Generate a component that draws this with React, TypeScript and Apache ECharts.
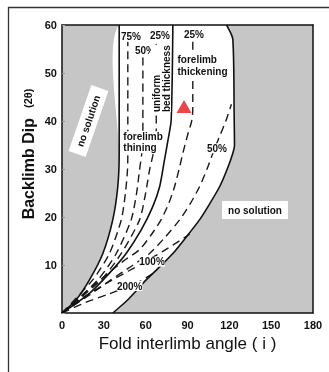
import React, { useEffect, useRef } from "react";
import * as echarts from "echarts";

// ---- data (degrees: [interlimb angle, backlimb dip]) ----
const leftBoundary = [[0, 0], [10, 2.7], [19.7, 6.9], [29.3, 12.4], [36.4, 19.4], [40, 26.3], [41, 33], [41, 60]];
const rightBoundary = [[36.5, 0], [47, 2.7], [60.4, 6.9], [70, 9.6], [79.5, 12.4], [89, 15.8], [98.6, 19.4], [106, 22.8], [113, 26.3], [118.5, 30], [122.5, 33.3], [123.7, 35], [123.5, 40], [122.5, 57], [118, 60]];
const uniformLine = [[0, 0], [19.7, 4.1], [34, 8.3], [46, 12.4], [56.8, 17.3], [65, 22.1], [70, 26.3], [73.5, 31.9], [76, 36], [78.3, 40.2], [79.5, 60]];
const thin75 = [[0, 0], [22, 6.9], [34, 12.4], [42.5, 19.4], [45.5, 25], [47, 30], [47.2, 34], [47.2, 56.5]];
const thin50 = [[0, 0], [25.7, 6.9], [38.9, 12.4], [49.6, 19.4], [53.5, 25], [55.6, 29.8], [57.5, 34], [58, 38], [58, 54]];
const thin25 = [[0, 0], [28, 6.9], [42.5, 12.4], [55.6, 19.4], [60, 25], [62.8, 29.8], [66, 34], [67.6, 38], [67.6, 56]];
const thick25 = [[0, 0], [18, 4.6], [32, 8], [44, 10.8], [55.6, 13.2], [64, 16.3], [71, 19.4], [76.5, 22.8], [80.7, 26.3], [84, 30], [86.7, 33.3], [90, 37], [93, 40], [93.8, 42.5], [93.8, 56.5]];
const thick50 = [[0, 0], [20, 3.8], [35, 6.9], [50, 9.8], [62.8, 12.4], [74, 15.8], [84.3, 19.4], [92, 22.8], [98.6, 26.3], [104, 30], [108.2, 33.3], [113, 36.8], [117.5, 40], [121.5, 43.5]];
const thick100 = [[0, 0], [16, 3.4], [32, 6.2], [48, 8.8], [61, 10.9], [72, 12.8], [82, 14.6], [91.5, 16.4]];
const thick200 = [[0, 0], [17, 2.2], [33, 3.9], [48, 5.6], [56, 6.6], [66, 8.4]];
const observedFold = [[87.5, 43]];

const xTickValues = [0, 30, 60, 90, 120, 150, 180];
const yTickValues = [10, 20, 30, 40, 50, 60];

const FONT = "'Liberation Sans', Arial, sans-serif";

export default function App() {
  const ref = useRef<HTMLDivElement>(null);

  useEffect(() => {
    if (!ref.current) return;
    const chart = echarts.init(ref.current, null, { renderer: "svg" });

    const whiteRegion = [...leftBoundary, ...rightBoundary.slice().reverse()];

    const dashed = (data: number[][]) => ({
      type: "line",
      data,
      showSymbol: false,
      smooth: 0.25,
      silent: true,
      z: 3,
      lineStyle: { color: "#1a1a1a", width: 1.4, type: [8, 5] },
    });
    const solid = (data: number[][]) => ({
      type: "line",
      data,
      showSymbol: false,
      smooth: 0.25,
      silent: true,
      z: 4,
      lineStyle: { color: "#111", width: 1.6, type: "solid" },
    });

    const lab = (text: string, x: number, y: number, extra: any = {}, rotation = 0) => ({
      type: "text",
      x,
      y,
      rotation,
      z: 100,
      style: {
        text,
        fontSize: 10,
        fontWeight: "bold",
        fontFamily: FONT,
        fill: "#111",
        align: "center",
        verticalAlign: "middle",
        backgroundColor: "#fff",
        ...extra,
      },
    });

    const axisLineStyle = { color: "#111", width: 1.5 };

    chart.setOption({
      animation: false,
      grid: { left: 62, right: 16, top: 25, bottom: 59, show: true, backgroundColor: "#c6c6c6", borderWidth: 0 },
      xAxis: [
        {
          type: "value",
          min: 0,
          max: 180,
          interval: 30,
          z: 10,
          axisLine: { show: true, onZero: false, lineStyle: axisLineStyle },
          axisTick: { show: false },
          splitLine: { show: false },
          axisLabel: {
            margin: 6,
            fontSize: 11,
            fontWeight: "bold",
            fontFamily: FONT,
            color: "#111",
            formatter: (v: number) => (xTickValues.includes(v) ? String(v) : ""),
          },
          name: "Fold interlimb angle ( i )",
          nameLocation: "middle",
          nameGap: 10,
          nameTextStyle: { fontSize: 17, fontFamily: FONT, color: "#111" },
        },
        {
          type: "value",
          position: "top",
          min: 0,
          max: 180,
          z: 10,
          axisLine: { show: true, onZero: false, lineStyle: axisLineStyle },
          axisTick: { show: false },
          axisLabel: { show: false },
          splitLine: { show: false },
        },
      ],
      yAxis: [
        {
          type: "value",
          min: 0,
          max: 60,
          interval: 10,
          z: 10,
          axisLine: { show: true, onZero: false, lineStyle: axisLineStyle },
          axisTick: { show: true, inside: true, length: 3, lineStyle: { color: "#999" } },
          splitLine: { show: false },
          axisLabel: {
            margin: 5,
            fontSize: 11,
            fontWeight: "bold",
            fontFamily: FONT,
            color: "#111",
            formatter: (v: number) => (yTickValues.includes(v) ? String(v) : ""),
          },
        },
        {
          type: "value",
          position: "right",
          min: 0,
          max: 60,
          z: 10,
          axisLine: { show: true, onZero: false, lineStyle: axisLineStyle },
          axisTick: { show: false },
          axisLabel: { show: false },
          splitLine: { show: false },
        },
      ],
      series: [
        {
          type: "custom",
          data: [[0, 0]],
          silent: true,
          z: 1,
          renderItem: (params: any, api: any) => ({
            type: "polygon",
            shape: { points: whiteRegion.map((p) => api.coord(p)), smooth: 0.25 },
            style: { fill: "#ffffff", stroke: "none" },
          }),
        },
        dashed(thin75),
        dashed(thin50),
        dashed(thin25),
        dashed(thick25),
        dashed(thick50),
        dashed(thick100),
        dashed(thick200),
        solid(leftBoundary),
        solid(rightBoundary),
        solid(uniformLine),
        {
          type: "scatter",
          data: observedFold,
          symbol: "triangle",
          symbolSize: [15, 13],
          z: 20,
          itemStyle: { color: "#e8141b" },
        },
      ],
      graphic: [
        {
          type: "rect",
          z: 100,
          silent: true,
          shape: { x: 8.5, y: 7.5, width: 340, height: 380 },
          style: { fill: "none", stroke: "#333", lineWidth: 1.3 },
        },
        {
          type: "text",
          x: 28,
          y: 154,
          rotation: Math.PI / 2,
          z: 100,
          style: {
            text: "{a|Backlimb Dip}{b|(2θ)}",
            align: "center",
            verticalAlign: "middle",
            fill: "#111",
            rich: {
              a: { fontSize: 16, fontWeight: "bold", fontFamily: FONT, fill: "#111", verticalAlign: "middle" },
              b: { fontSize: 11, fontWeight: "bold", fontFamily: FONT, fill: "#111", verticalAlign: "middle", padding: [0, 0, 0, 10] },
            },
          },
        },
        lab("75%", 131, 36.5),
        lab("50%", 145, 50),
        lab("25%", 160, 35),
        lab("25%", 194, 34.5),
        lab("forelimb\nthickening", 177.5, 65.5, { align: "left", lineHeight: 12.4 }),
        lab("uniform\nbed thickness", 161, 112, { align: "left", lineHeight: 10 }, Math.PI / 2),
        lab("forelimb\nthining", 123.3, 142.2, { align: "left", lineHeight: 11 }),
        lab("50%", 217, 148.3),
        lab("100%", 152, 261.7),
        lab("200%", 129.7, 286),
        lab("no solution", 88.5, 121, { padding: [4, 8] }, (71 * Math.PI) / 180),
        lab("no solution", 255, 210, { padding: [4, 6] }),
      ],
    });

    return () => chart.dispose();
  }, []);

  return <div ref={ref} style={{ position: "fixed", left: 0, top: 0, width: 329, height: 372 }} />;
}
